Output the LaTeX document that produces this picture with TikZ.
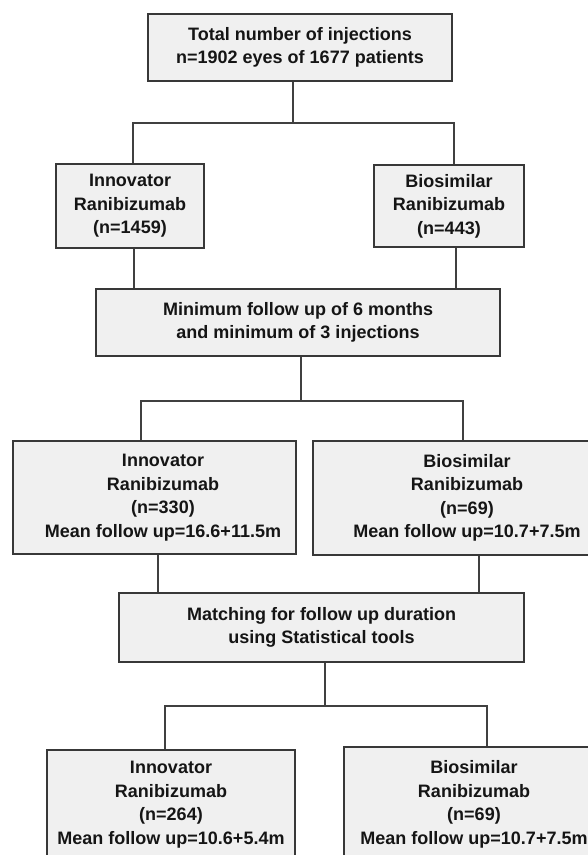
\documentclass[tikz,border=0pt]{standalone}
\usepackage{fontspec}
\setmainfont{Liberation Sans}
\definecolor{boxfill}{HTML}{F0F0F0}
\definecolor{boxline}{HTML}{383838}
\definecolor{conline}{HTML}{404040}
\definecolor{txt}{HTML}{151515}
\tikzset{
  fbox/.style={draw=boxline, fill=boxfill, line width=1.3pt, inner sep=0pt,
    align=center, text=txt, font=\fontsize{18}{23.5}\selectfont\bfseries},
  conn/.style={draw=conline, line width=1.2pt}
}
\begin{document}
\begin{tikzpicture}[x=1pt,y=-1pt]
\useasboundingbox (0,0) rectangle (588,855);
\clip (0,0) rectangle (588,855);
\fill[white] (0,0) rectangle (588,855);

% boxes
\node[fbox, minimum width=304pt, minimum height=67pt] (A) at (300,47.5)
  {Total number of injections\\n=1902 eyes of 1677 patients};
\node[fbox, minimum width=148pt, minimum height=84pt] (B1) at (130,206)
  {Innovator\\Ranibizumab\\(n=1459)};
\node[fbox, minimum width=150pt, minimum height=82pt] (B2) at (449,206)
  {Biosimilar\\Ranibizumab\\(n=443)};
\node[fbox, minimum width=404pt, minimum height=67pt] (C) at (298,322.5)
  {Minimum follow up of 6 months\\and minimum of 3 injections};
\node[fbox, minimum width=283pt, minimum height=113pt] (D1) at (154.5,497.5)
  {\hspace*{17pt}\begin{tabular}{@{}c@{}}Innovator\\Ranibizumab\\(n=330)\\Mean follow up=16.6+11.5m\end{tabular}};
\node[fbox, minimum width=308pt, minimum height=114pt] (D2) at (467,498)
  {Biosimilar\\Ranibizumab\\(n=69)\\Mean follow up=10.7+7.5m};
\node[fbox, minimum width=405pt, minimum height=69pt] (E) at (321.5,627.5)
  {Matching for follow up duration\\using Statistical tools};
\node[fbox, minimum width=248pt, minimum height=109pt] (F1) at (171,804.5)
  {Innovator\\Ranibizumab\\(n=264)\\Mean follow up=10.6+5.4m};
\node[fbox, minimum width=260pt, minimum height=115pt] (F2) at (474,804.5)
  {Biosimilar\\Ranibizumab\\(n=69)\\Mean follow up=10.7+7.5m};

% junction coordinates
\coordinate (a0) at (293,123);
\coordinate (aL) at (133,123);
\coordinate (aR) at (454,123);
\coordinate (bL) at (134,0);
\coordinate (bR) at (456,0);
\coordinate (c0) at (301,401);
\coordinate (cL) at (141,401);
\coordinate (cR) at (463,401);
\coordinate (dL) at (158,0);
\coordinate (dR) at (479,0);
\coordinate (e0) at (325,706);
\coordinate (eL) at (165,706);
\coordinate (eR) at (487,706);

% connectors
\draw[conn] (A.south -| a0) -- (a0);
\draw[conn] (B1.north -| aL) -- (aL) -- (aR) -- (B2.north -| aR);
\draw[conn] (B1.south -| bL) -- (C.north -| bL);
\draw[conn] (B2.south -| bR) -- (C.north -| bR);
\draw[conn] (C.south -| c0) -- (c0);
\draw[conn] (D1.north -| cL) -- (cL) -- (cR) -- (D2.north -| cR);
\draw[conn] (D1.south -| dL) -- (E.north -| dL);
\draw[conn] (D2.south -| dR) -- (E.north -| dR);
\draw[conn] (E.south -| e0) -- (e0);
\draw[conn] (F1.north -| eL) -- (eL) -- (eR) -- (F2.north -| eR);
\end{tikzpicture}
\end{document}
